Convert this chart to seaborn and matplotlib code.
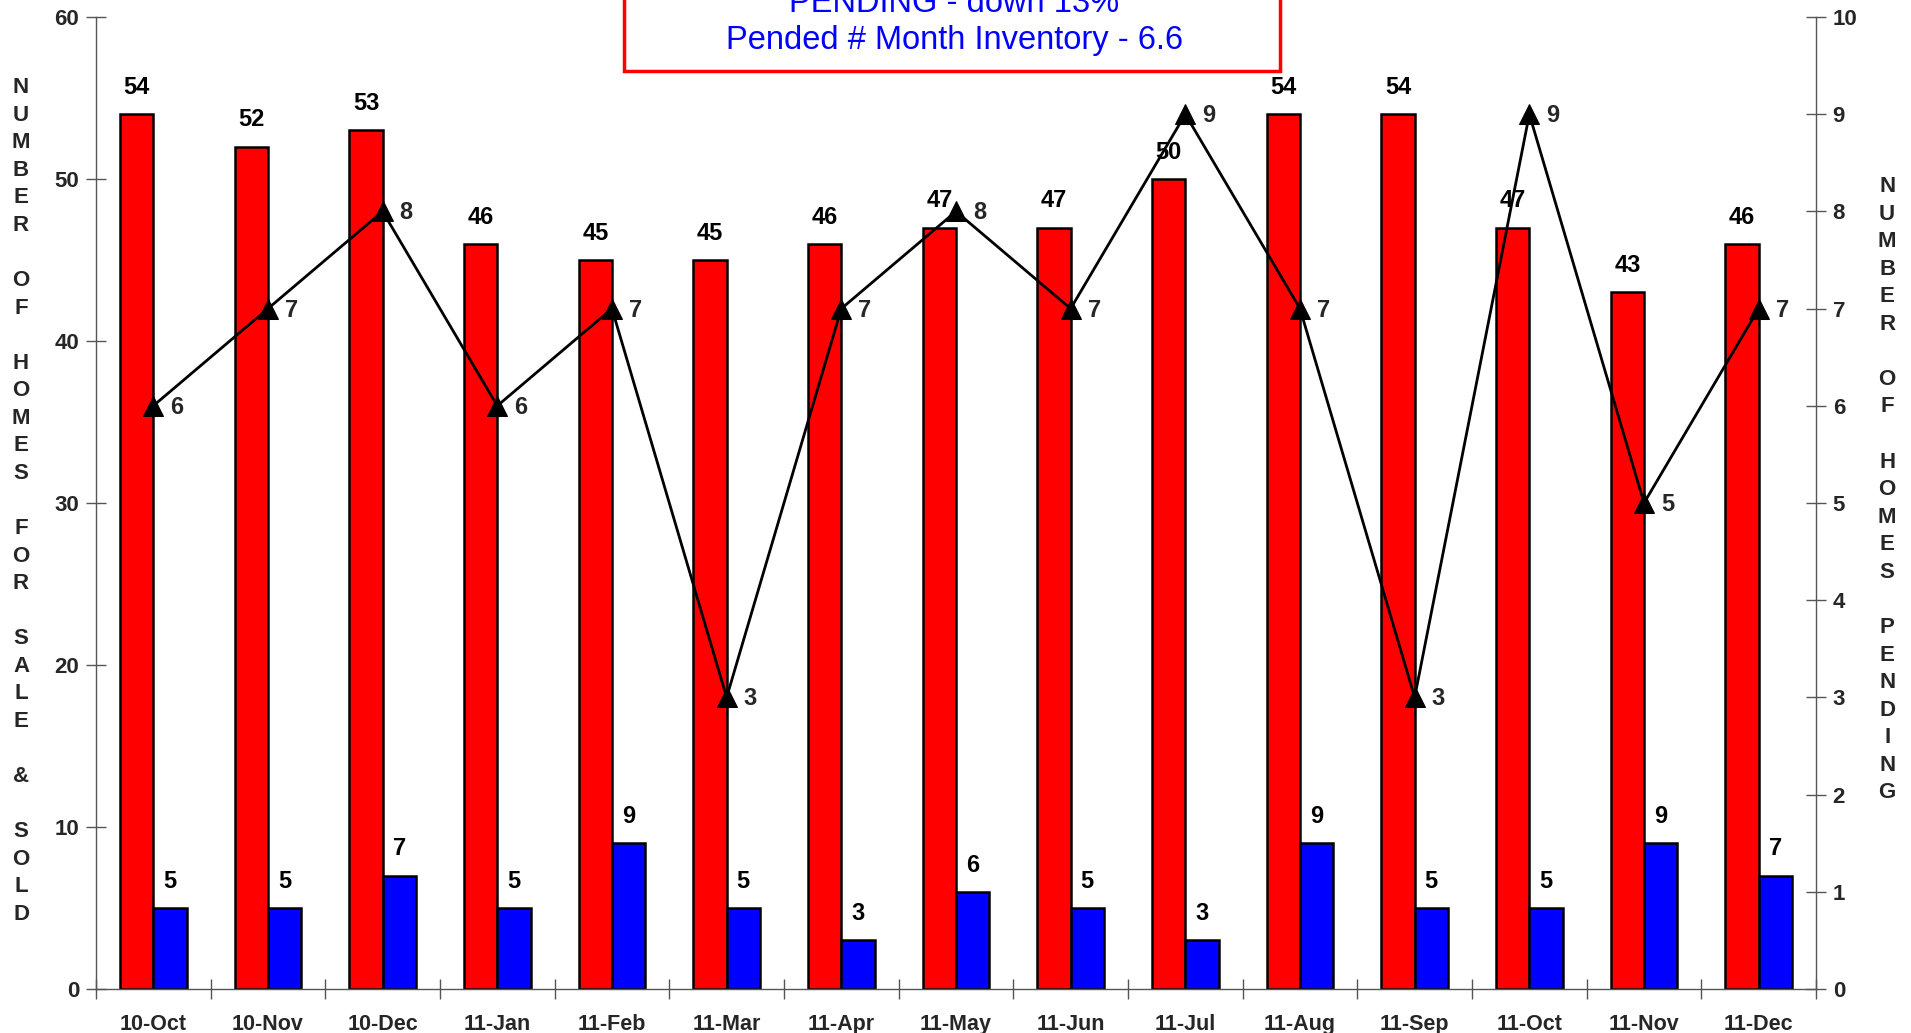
import numpy as np
import pandas as pd
import matplotlib
matplotlib.use("Agg")
import matplotlib.pyplot as plt
from matplotlib.patches import Rectangle
import seaborn as sns

# --- data ---
months = ["10-Oct", "10-Nov", "10-Dec", "11-Jan", "11-Feb", "11-Mar", "11-Apr", "11-May",
          "11-Jun", "11-Jul", "11-Aug", "11-Sep", "11-Oct", "11-Nov", "11-Dec"]
for_sale = [54, 52, 53, 46, 45, 45, 46, 47, 47, 50, 54, 54, 47, 43, 46]
sold = [5, 5, 7, 5, 9, 5, 3, 6, 5, 3, 9, 5, 5, 9, 7]
pending = [6, 7, 8, 6, 7, 3, 7, 8, 7, 9, 7, 3, 9, 5, 7]

left_ticks = [0, 10, 20, 30, 40, 50, 60]
right_ticks = list(range(0, 11))
header_top = "PENDING - down 13%"
header_bottom = "Pended # Month Inventory - 6.6"
left_label = "NUMBER OF HOMES FOR SALE & SOLD"
right_label = "NUMBER OF HOMES PENDING"

sns.set_theme(style="white")
plt.rcParams["font.family"] = ["Liberation Sans", "DejaVu Sans"]

# long table for seaborn's dodged bars
bars = pd.DataFrame({
    "month": months * 2,
    "value": for_sale + sold,
    "series": ["For Sale"] * len(months) + ["Sold"] * len(months),
})

fig = plt.figure(figsize=(19.11, 10.33), dpi=100)
ax = fig.add_axes([0.0502, 0.0426, 0.9001, 0.9409])

sns.barplot(data=bars, x="month", y="value", hue="series", order=months,
            palette=["#ff0000", "#0000ff"], width=0.58, gap=0, dodge=True,
            edgecolor="black", linewidth=1.8, saturation=1, legend=False, ax=ax)

for cont in ax.containers:
    ax.bar_label(cont, padding=11, fontsize=17, fontweight="bold", color="black")

ax.set_ylim(0, 60)
ax.set_xlim(-0.5, len(months) - 0.5)
ax.set_yticks(left_ticks)
ax.set_xlabel("")
ax.set_ylabel("")

# category boundaries get the crossing ticks, labels sit in the middle
ax.set_xticks(np.arange(len(months)))
ax.set_xticklabels(months, fontsize=15.5, fontweight="bold")
ax.set_xticks(np.arange(len(months) + 1) - 0.5, minor=True)
ax.tick_params(axis="x", which="major", length=0, pad=18)
ax.tick_params(axis="x", which="minor", direction="inout", length=14, width=1, color="#555555", bottom=True)
ax.tick_params(axis="y", direction="inout", length=14, width=1, color="#555555",
               labelsize=16, pad=5, left=True)
for lab in ax.get_yticklabels():
    lab.set_fontweight("bold")

for side in ["top", "right"]:
    ax.spines[side].set_visible(False)
for side in ["left", "bottom"]:
    ax.spines[side].set_color("#555555")
    ax.spines[side].set_linewidth(1)

# pending homes on the right axis
ax2 = ax.twinx()
sns.lineplot(x=np.arange(len(months)), y=pending, color="black", linewidth=2,
             marker="^", markersize=14, markeredgecolor="black", ax=ax2)
for i, p in enumerate(pending):
    ax2.annotate(str(p), (i, p), xytext=(17, -1), textcoords="offset points",
                 ha="center", va="center", fontsize=17, fontweight="bold")

ax2.set_ylim(0, 10)
ax2.set_yticks(right_ticks)
ax2.tick_params(axis="y", direction="inout", length=14, width=1, color="#555555",
                labelsize=16, pad=5, right=True)
for lab in ax2.get_yticklabels():
    lab.set_fontweight("bold")
for side in ["top", "left", "bottom"]:
    ax2.spines[side].set_visible(False)
ax2.spines["right"].set_color("#555555")
ax2.spines["right"].set_linewidth(1)

# stacked letter axis titles
def stacked(txt):
    return "\n".join(" " if ch == " " else ch for ch in txt)

fig.text(0.011, 0.515, stacked(left_label), ha="center", va="center",
         fontsize=16, fontweight="bold", linespacing=1.41)
fig.text(0.9875, 0.526, stacked(right_label), ha="center", va="center",
         fontsize=16, fontweight="bold", linespacing=1.41)

# header box at the top (runs off the top edge)
box = Rectangle((624 / 1911, 1 - 71 / 1033), 656 / 1911, 0.2, transform=fig.transFigure,
                facecolor="white", edgecolor="#ff0000", linewidth=2.5, zorder=5)
fig.patches.append(box)
fig.text(0.4995, 1 - 40 / 1033, header_bottom, ha="center", va="center",
         fontsize=23.5, color="#0000ff", zorder=6)
fig.text(0.4995, 1 - 3 / 1033, header_top, ha="center", va="center",
         fontsize=23.5, color="#0000ff", zorder=6)

fig.savefig("out.png", dpi=100)
